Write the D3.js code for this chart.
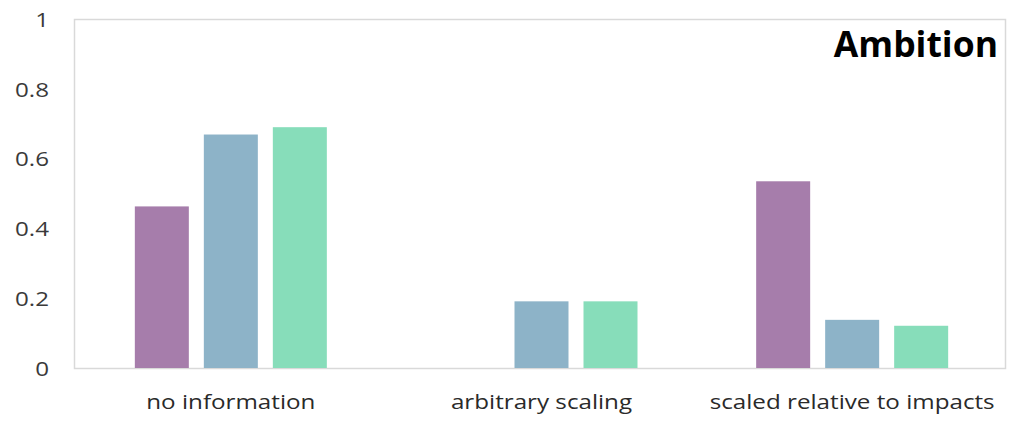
<!DOCTYPE html>
<html>
<head>
<meta charset="utf-8">
<script src="https://cdn.jsdelivr.net/npm/d3@7"></script>
<style>
  html, body { margin: 0; padding: 0; background: #fff; }
  svg { display: block; }
</style>
</head>
<body>
<svg id="chart" width="1010" height="422"></svg>
<script>
const categories = ["no information", "arbitrary scaling", "scaled relative to impacts"];
const seriesNames = ["series A", "series B", "series C"];
const seriesA = [0.463, 0.0, 0.535];
const seriesB = [0.669, 0.191, 0.138];
const seriesC = [0.690, 0.191, 0.121];
const yTicks = [0, 0.2, 0.4, 0.6, 0.8, 1];
const yTickLabels = ["0", "0.2", "0.4", "0.6", "0.8", "1"];
const title = "Ambition";
const colors = ["#a67dab", "#8db3c8", "#87ddba"];

const seriesValues = [seriesA, seriesB, seriesC];

const W = 1010, H = 422;
const margin = { left: 74, top: 19, right: 4, bottom: 54 };
const iw = W - margin.left - margin.right;
const ih = H - margin.top - margin.bottom;
const stretch = 1.21;

const svg = d3.select("#chart");
const g = svg.append("g").attr("transform", `translate(${margin.left},${margin.top})`);

const x0 = d3.scaleBand().domain(categories).range([0, iw]).padding(0);
const groupW = 192;
const x1 = d3.scaleBand().domain(seriesNames).range([0, groupW]).paddingInner(15 / 69).paddingOuter(0);
const y = d3.scaleLinear().domain([0, 1]).range([ih, 0]);

// frame
g.append("rect")
  .attr("x", 0.5).attr("y", 0.5)
  .attr("width", iw - 1).attr("height", ih)
  .attr("fill", "none")
  .attr("stroke", "#d9d9d9")
  .attr("stroke-width", 1.5);

// bars
const data = [];
categories.forEach((c, i) => {
  seriesNames.forEach((s, j) => {
    data.push({ cat: c, ser: s, v: seriesValues[j][i], color: colors[j] });
  });
});

g.selectAll("rect.bar")
  .data(data.filter(d => d.v > 0))
  .enter().append("rect")
  .attr("class", "bar")
  .attr("x", d => x0(d.cat) + x0.bandwidth() / 2 - groupW / 2 + 1.5 + x1(d.ser))
  .attr("y", d => y(d.v))
  .attr("width", x1.bandwidth())
  .attr("height", d => y(0) - y(d.v))
  .attr("fill", d => d.color);

// y axis
const yAxis = d3.axisLeft(y)
  .tickValues(yTicks)
  .tickFormat((d, i) => yTickLabels[i])
  .tickSize(0)
  .tickPadding(25);
const ya = g.append("g").call(yAxis);
ya.select(".domain").remove();
ya.selectAll("text")
  .attr("font-family", "Open Sans, sans-serif")
  .attr("font-size", 20)
  .attr("fill", "#3a3a3a")
  .attr("x", -25 / stretch)
  .attr("dy", "0.36em")
  .attr("transform", `scale(${stretch},1)`);

// x axis
const xAxis = d3.axisBottom(x0).tickSize(0).tickPadding(27);
const xa = g.append("g").attr("transform", `translate(1.5,${ih})`).call(xAxis);
xa.select(".domain").remove();
xa.selectAll("text")
  .attr("font-family", "Open Sans, sans-serif")
  .attr("font-size", 20)
  .attr("fill", "#2a2a2a")
  .attr("transform", `scale(${stretch},1)`);

// title
svg.append("text")
  .attr("x", 998).attr("y", 57)
  .attr("text-anchor", "end")
  .attr("font-family", "Open Sans, sans-serif")
  .attr("font-weight", "bold")
  .attr("font-size", 35.5)
  .attr("fill", "#000")
  .text(title);
</script>
</body>
</html>
